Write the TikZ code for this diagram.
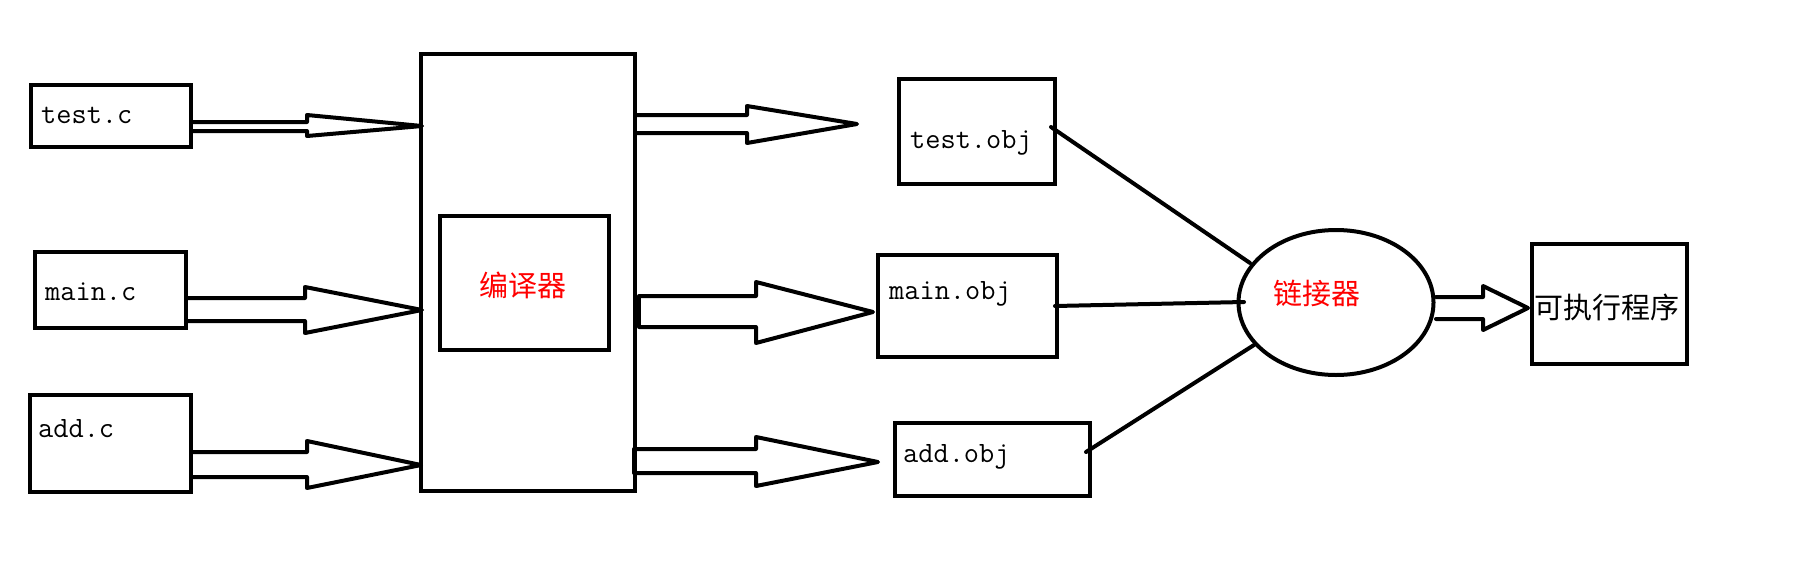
\documentclass[tikz,border=0pt]{standalone}
\usepackage{fontspec}
\newfontfamily\cjk{Noto Sans CJK SC}
\usetikzlibrary{shapes.geometric}
\tikzset{
  box/.style={draw, line width=4pt, inner sep=0pt, outer sep=0pt},
  lbl/.style={anchor=base west, inner sep=0pt, font=\fontsize{29.5}{29.5}\selectfont\ttfamily},
  cjklbl/.style={inner sep=0pt, font=\fontsize{#1}{#1}\selectfont\cjk},
  arr/.style={draw, line width=4pt, line join=round, line cap=round},
  conn/.style={draw, line width=4pt, line cap=round}
}
\newcommand{\hollowarrow}[8]{\draw[arr] (#1,#2) -- (#3,#2) -- (#3,#4) -- (#5,#6) -- (#3,#7) -- (#3,#8) -- (#1,#8);}
\begin{document}
\begin{tikzpicture}[x=1pt,y=-1pt]
\useasboundingbox (0,0) rectangle (1793,576);
% source files
\node[box, minimum width=160pt, minimum height=62pt] (testc) at (111,116) {};
\node[box, minimum width=151pt, minimum height=76pt] (mainc) at (110.5,290) {};
\node[box, minimum width=161pt, minimum height=97pt] (addc) at (110.5,443.5) {};
\node[lbl] (testct) at (41,123) {test.c};
\node[lbl] (mainct) at (45,300) {main.c};
\node[lbl] (addct) at (38,437) {add.c};
% compiler
\node[box, minimum width=214pt, minimum height=437pt] (comp) at (528,272.5) {};
\node[box, minimum width=169pt, minimum height=134pt] (compin) at (524.5,283) {};
\node[cjklbl=29, text=red] (compt) at (522.5,285) {编译器};
% object files
\node[box, minimum width=156pt, minimum height=105pt] (testobj) at (977,131.5) {};
\node[box, minimum width=179pt, minimum height=102pt] (mainobj) at (967.5,306) {};
\node[box, minimum width=195pt, minimum height=73pt] (addobj) at (992.5,459.5) {};
\node[lbl] (testobjt) at (910,148) {test.obj};
\node[lbl] (mainobjt) at (889,299) {main.obj};
\node[lbl] (addobjt) at (903,462) {add.obj};
% linker
\node[draw, ellipse, line width=4pt, inner sep=0pt, minimum width=195pt, minimum height=145pt] (link) at (1336,302.5) {};
\node[cjklbl=29, text=red] (linkt) at (1316.5,293) {链接器};
% executable
\node[box, minimum width=155pt, minimum height=120pt] (exec) at (1609.5,304) {};
\node[cjklbl=29] (exect) at (1606.5,307) {可执行程序};
% hollow arrows: x0, shaft top, back x, head top, tip x, tip y, head bottom, shaft bottom
\hollowarrow{193}{122}{307}{115}{422}{126}{136}{131}
\hollowarrow{188}{298}{305}{287}{422}{310}{333}{321}
\hollowarrow{193}{452}{307}{441}{421}{465}{488}{477}
\hollowarrow{637}{115}{747}{106}{857}{124}{143}{133}
\hollowarrow{639}{296}{756}{282}{873}{312}{343}{327}
\hollowarrow{634}{449}{756}{437}{878}{462}{486}{473}
\hollowarrow{1436}{297}{1483}{286}{1528}{308}{330}{319}
\draw[line width=4pt] (639,296) -- (639,327);
\draw[line width=4pt] (634,449) -- (634,473);
% connectors to linker
\coordinate (c1) at (1051,127);
\coordinate (c2) at (1055,306);
\coordinate (c3) at (1086,452);
\coordinate (e1) at (1250,263);
\coordinate (e2) at (1244,302);
\coordinate (e3) at (1254,345);
\draw[conn] (c1) -- (e1);
\draw[conn] (c2) -- (e2);
\draw[conn] (c3) -- (e3);
\end{tikzpicture}
\end{document}
